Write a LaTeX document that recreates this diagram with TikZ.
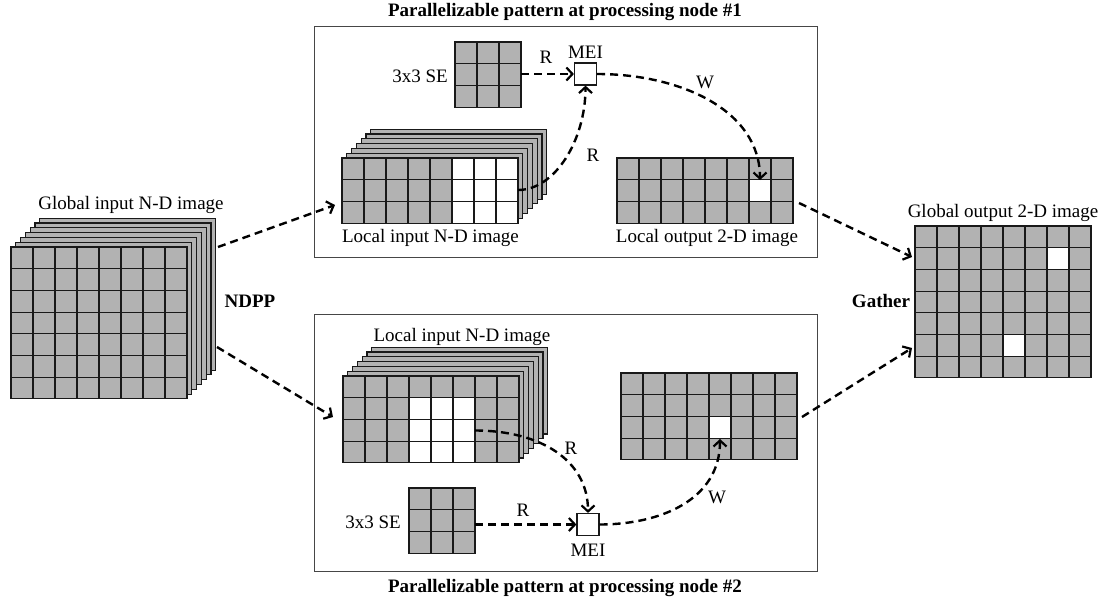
\documentclass[tikz,border=0pt]{standalone}
\usepackage{fontspec}
\setmainfont{Liberation Serif}
\usetikzlibrary{arrows.meta}

\definecolor{cellgray}{RGB}{178,178,178}
\definecolor{gridcol}{RGB}{25,25,25}
\definecolor{framecol}{RGB}{70,70,70}

% back layers of an image stack (drawn behind the front grid)
\newcommand{\layerstack}[4]{% x, y, cols, rows
  \foreach \kk in {6,5,...,1}
    \filldraw[fill=cellgray, draw=gridcol, line width=1.15pt]
      ({#1+\kk*4.8},{#2-\kk*4.8}) rectangle ++({#3*22},{#4*21.7});
}

% a grid of pixels: name, x, y, cols, rows, list of white cells col/row
\newcommand{\pixgrid}[6]{%
  \node[inner sep=0pt, outer sep=0pt, minimum width={#4*22pt},
        minimum height={#5*21.7pt}, anchor=north west] (#1) at (#2,#3) {};
  \fill[cellgray] (#2,#3) rectangle ++({#4*22},{#5*21.7});
  \foreach \cc/\rr in {#6} {%
    \edef\tmpcell{\cc}%
    \ifx\tmpcell\empty\else
      \fill[white] ({#2+\cc*22},{#3+\rr*21.7}) rectangle ++(22,21.7);
    \fi}
  \foreach \ii in {0,...,#4}
    \draw[gridline] ({#2+\ii*22},#3) -- ++(0,{#5*21.7});
  \foreach \jj in {0,...,#5}
    \draw[gridline] (#2,{#3+\jj*21.7}) -- ++({#4*22},0);
}

\begin{document}
\begin{tikzpicture}[x=1pt, y=-1pt,
  gridline/.style={draw=gridcol, line width=1.15pt, line cap=rect},
  panel/.style={draw=framecol, line width=1.4pt, inner sep=0pt, anchor=north west},
  lbl/.style={font=\fontsize{19pt}{22pt}\selectfont, inner sep=0pt},
  bold/.style={font=\fontsize{19pt}{22pt}\selectfont\bfseries, inner sep=0pt},
  mei/.style={draw=gridcol, fill=white, line width=1.2pt, minimum size=22pt, inner sep=0pt},
  conn/.style={draw=black, line width=2.4pt, dash pattern=on 8pt off 5pt,
    -{Straight Barb[length=6pt,width=13pt,line width=2.2pt]}}]

\useasboundingbox (0,0) rectangle (1100,600);

% ---------- processing panels ----------
\node[panel, minimum width=503pt, minimum height=231pt] (panel1) at (314,26) {};
\node[panel, minimum width=503pt, minimum height=257pt] (panel2) at (314,314) {};
\node[bold] (title1) at (565,12) {Parallelizable pattern at processing node \#1};
\node[bold] (title2) at (565,588) {Parallelizable pattern at processing node \#2};

% ---------- global input ----------
\layerstack{11}{247}{8}{7}
\pixgrid{gin}{11}{247}{8}{7}{}
\node[lbl] (ginlbl) at (131,205) {Global input N-D image};
\node[bold] (ndpp) at (250,301) {NDPP};

% ---------- node #1 ----------
\pixgrid{se1}{455}{42}{3}{3}{}
\node[lbl, anchor=east] (se1lbl) at (448,76) {3x3 SE};
\node[mei] (mei1) at (585.5,74) {};
\node[lbl] (mei1lbl) at (585.5,52) {MEI};
\layerstack{342}{158}{8}{3}
\pixgrid{lin1}{342}{158}{8}{3}{5/0,6/0,7/0,5/1,6/1,7/1,5/2,6/2,7/2}
\node[lbl] (lin1lbl) at (430.5,238) {Local input N-D image};
\pixgrid{lout1}{617}{158}{8}{3}{6/1}
\node[lbl] (lout1lbl) at (707,238) {Local output 2-D image};

% ---------- node #2 ----------
\layerstack{343}{376}{8}{4}
\pixgrid{lin2}{343}{376}{8}{4}{3/1,4/1,5/1,3/2,4/2,5/2,3/3,4/3,5/3}
\node[lbl] (lin2lbl) at (462,337) {Local input N-D image};
\pixgrid{se2}{409}{488}{3}{3}{}
\node[lbl, anchor=east] (se2lbl) at (401,522) {3x3 SE};
\node[mei] (mei2) at (588,524.5) {};
\node[lbl] (mei2lbl) at (588,550) {MEI};
\pixgrid{lout2}{621}{373}{8}{4}{4/2}

% ---------- global output ----------
\pixgrid{gout}{915}{226}{8}{7}{6/1,4/5}
\node[lbl] (goutlbl) at (1003,213) {Global output 2-D image};
\node[bold] (gather) at (881,301) {Gather};

% ---------- connector end points ----------
\coordinate (ginA) at (218,247);
\coordinate (ginB) at (217,347);
\coordinate (lin1in) at (335,205);
\coordinate (lin2in) at (333,417);
\coordinate (lin1out) at (518,190);
\coordinate (lin2out) at (475,430.5);
\coordinate (lout1w) at (760,180);
\coordinate (lout2w) at (720,439);
\coordinate (lout1out) at (799,203);
\coordinate (lout2out) at (802,417);
\coordinate (goutA) at (912,257);
\coordinate (goutB) at (912,348);

% ---------- connectors ----------
\draw[conn] (ginA) -- (lin1in);
\draw[conn] (ginB) -- (lin2in);
\draw[conn] (lout1out) -- (goutA);
\draw[conn] (lout2out) -- (goutB);

% node #1: read SE and window, write result
\draw[conn] (se1.east |- mei1.west) -- (mei1.west);
\node[lbl] (r1a) at (546,57) {R};
\draw[conn] (lin1out) .. controls (555,190) and (585.5,140) .. (mei1.south);
\node[lbl] (r1b) at (593,155) {R};
\draw[conn] (mei1.east) .. controls (680,74) and (760,110) .. (lout1w);
\node[lbl] (w1) at (705,82) {W};

% node #2: read SE and window, write result
\draw[conn] (se2.east |- mei2.west) -- (mei2.west);
\node[lbl] (r2a) at (523,510) {R};
\draw[conn] (lin2out) .. controls (540,430.5) and (588,460) .. (mei2.north);
\node[lbl] (r2b) at (571,448) {R};
\draw[conn] (mei2.east) .. controls (660,524.5) and (720,500) .. (lout2w);
\node[lbl] (w2) at (717,497) {W};

\end{tikzpicture}
\end{document}
